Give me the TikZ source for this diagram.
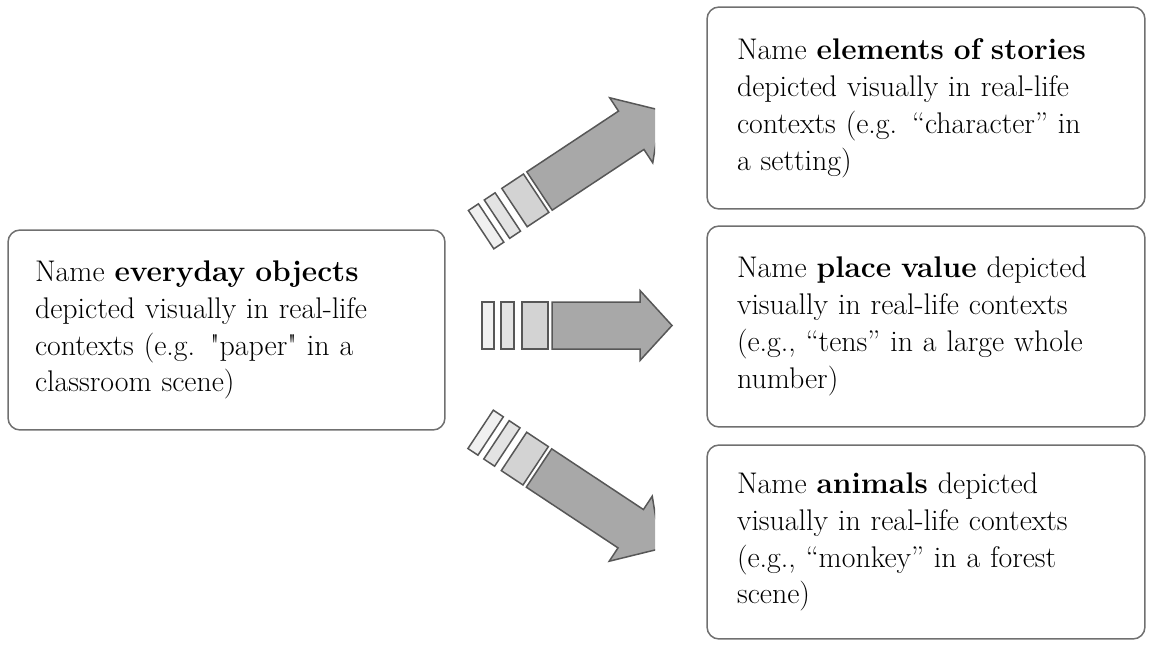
\documentclass[tikz,border=0pt]{standalone}
\usepackage{fontspec}
\usepackage{tikz}
\usetikzlibrary{calc}

\definecolor{boxline}{HTML}{707070}
\definecolor{arrowline}{HTML}{575757}
\definecolor{toneA}{HTML}{F0F0F0}
\definecolor{toneB}{HTML}{E3E3E3}
\definecolor{toneC}{HTML}{D3D3D3}
\definecolor{toneD}{HTML}{A8A8A8}

\tikzset{
  goalbox/.style={draw=boxline, line width=0.03cm, rounded corners=0.24cm,
    align=left, inner xsep=0.6cm, inner ysep=0pt, text width=7.56cm,
    font=\fontsize{17}{21}\selectfont},
  segline/.style={draw=arrowline, line width=0.03cm},
}

% #1 body length, #2 head length, #3 half body, #4 half head
\newcommand{\stepsarrow}[4]{
  \draw[segline, fill=toneA] (-70,-#3) rectangle (-58,#3);
  \draw[segline, fill=toneB] (-51,-#3) rectangle (-38,#3);
  \draw[segline, fill=toneC] (-30,-#3) rectangle (-4,#3);
  \draw[segline, fill=toneD] (0,-#3) -- (#1,-#3) -- (#1,-#4) -- (#1+#2,0)
    -- (#1,#4) -- (#1,#3) -- (0,#3) -- cycle;
}

\begin{document}
\begin{tikzpicture}[x=0.02cm, y=-0.02cm]
  \useasboundingbox (0,0) rectangle (1150,652);

  \node[goalbox, text width=7.66cm, inner xsep=0.54cm, minimum height=4cm]
    at (226.5,330) (everyday)
    {Name \textbf{everyday objects}\\ depicted visually in real-life\\
     contexts (e.g. \textquotedbl paper\textquotedbl{} in a\\ classroom scene)};
  \node[goalbox, minimum height=4.04cm] at (926,108) (stories)
    {Name \textbf{elements of stories}\\ depicted visually in real-life\\
     contexts (e.g. “character” in\\ a setting)};
  \node[goalbox, minimum height=4.02cm] at (926,326.5) (placevalue)
    {Name \textbf{place value} depicted\\ visually in real-life contexts\\
     (e.g., “tens” in a large whole\\ number)};
  \node[goalbox, minimum height=3.88cm] at (926,542) (animals)
    {Name \textbf{animals} depicted\\ visually in real-life contexts\\
     (e.g., “monkey” in a forest\\ scene)};

  \coordinate (up) at (539.5,191);
  \coordinate (mid) at (552,325.5);
  \coordinate (down) at (539,468);

  % diagonal arrows are cut off on the right
  \begin{scope}
    \clip (0,0) rectangle (655,652);
    \begin{scope}[shift={(up)}, rotate=33.5]
      \stepsarrow{110}{36}{23}{39}
    \end{scope}
    \begin{scope}[shift={(down)}, rotate=-33.5]
      \stepsarrow{110}{36}{23}{39}
    \end{scope}
  \end{scope}
  \begin{scope}[shift={(mid)}]
    \stepsarrow{88}{32}{23.5}{35}
  \end{scope}
\end{tikzpicture}
\end{document}
